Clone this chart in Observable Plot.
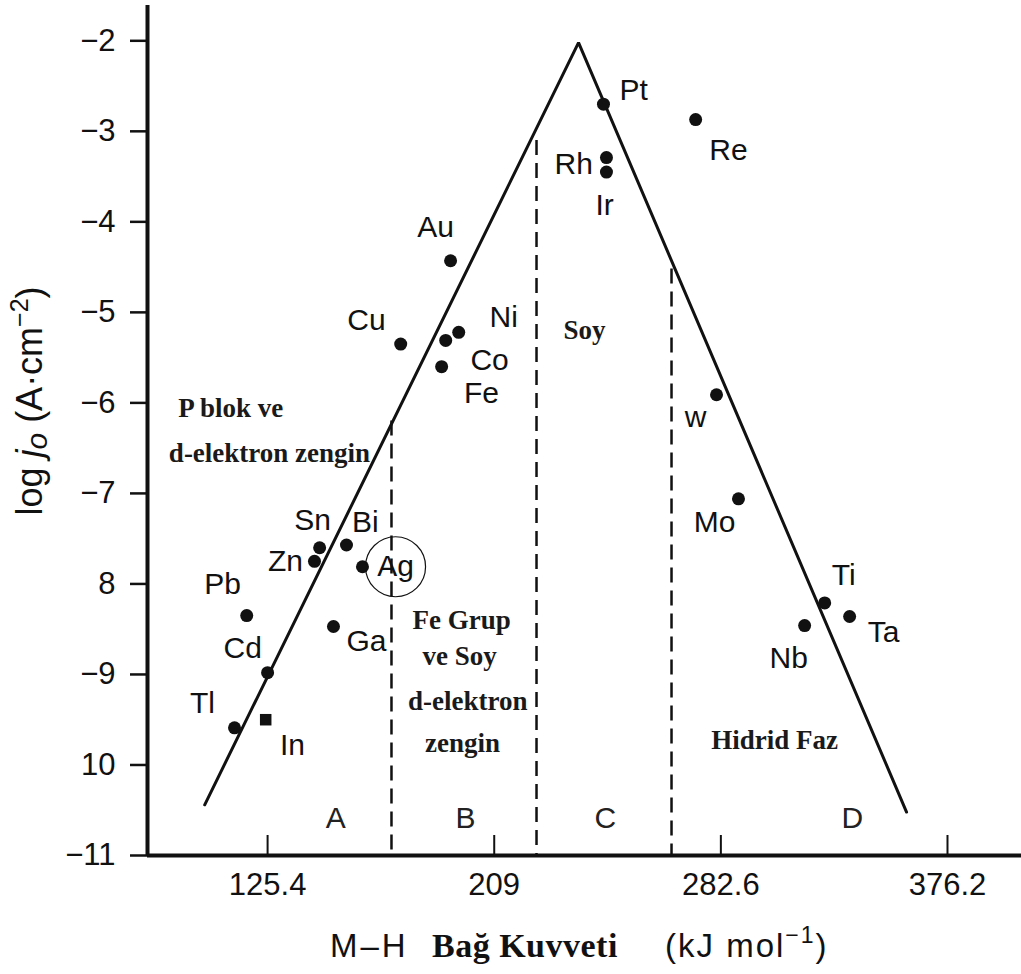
<!DOCTYPE html>
<html>
<head>
<meta charset="utf-8">
<script src="https://cdn.jsdelivr.net/npm/d3@7"></script>
<script src="https://cdn.jsdelivr.net/npm/@observablehq/plot@0.6"></script>
<style>
  html, body { margin: 0; padding: 0; background: #fff; }
  #chart svg { display: block; }
</style>
</head>
<body>
<div id="chart"></div>
<script>
// Volcano plot: exchange current density of hydrogen evolution vs. M–H bond strength

// Metals, their M–H bond strength (kJ/mol) and log j0 (A·cm^-2)
const elements     = ["Pt", "Re", "Rh", "Ir", "Au", "Cu", "Ni", "Co", "Fe", "W", "Mo", "Ti", "Ta", "Nb", "Sn", "Zn", "Bi", "Ag", "Ga", "Pb", "Cd", "Tl", "In"];
const bondStrength = [249.3, 283.3, 250.4, 250.4, 192.9, 174.5, 195.9, 191.1, 189.6, 291.0, 299.1, 330.9, 340.1, 323.5, 144.6, 142.7, 154.5, 160.4, 149.7, 117.7, 125.4, 113.2, 124.7];
const logJ0        = [-2.70, -2.87, -3.29, -3.45, -4.43, -5.35, -5.22, -5.31, -5.60, -5.91, -7.06, -8.21, -8.36, -8.46, -7.60, -7.75, -7.57, -7.81, -8.47, -8.35, -8.98, -9.59, -9.50];

// Element name labels and where they sit
const labelText = ["Pt", "Re", "Rh", "Ir", "Au", "Cu", "Ni", "Co", "Fe", "w", "Mo", "Ti", "Ta", "Nb", "Sn", "Zn", "Bi", "Ag", "Ga", "Pb", "Cd", "Tl", "In"];
const labelX    = [260.4, 295.4, 238.3, 249.7, 187.4, 161.9, 212.5, 207.3, 204.3, 283.3, 290.3, 337.9, 352.6, 317.6, 142.0, 132.0, 161.5, 172.6, 161.9, 108.8, 116.2, 101.4, 134.6];
const labelY    = [-2.55, -3.21, -3.36, -3.82, -4.06, -5.09, -5.05, -5.53, -5.89, -6.16, -7.32, -7.91, -8.54, -8.82, -7.30, -7.75, -7.32, -7.81, -8.64, -8.00, -8.71, -9.32, -9.78];
const circledLabel = "Ag";

// The two branches of the volcano (left foot, apex, right foot)
const volcanoX = [102.2, 240.1, 361.1];
const volcanoY = [-10.44, -2.02, -10.52];

// Region boundaries (dashed) and their upper ends on the volcano
const boundaryX   = [171.1, 224.6, 274.4];
const boundaryTop = [-6.20, -3.10, -4.52];

// Region letters
const regionText = ["A", "B", "C", "D"];
const regionX    = [150.5, 198.4, 250.0, 341.1];
const regionY    = [-10.59, -10.59, -10.59, -10.59];

// Region descriptions
const noteText = ["P blok ve", "d-elektron zengin", "Fe Grup", "ve Soy", "d-elektron", "zengin", "Soy", "Hidrid Faz"];
const noteX    = [111.8, 126.1, 197.0, 196.2, 199.2, 197.3, 242.3, 312.4];
const noteY    = [-6.06, -6.56, -8.40, -8.80, -9.30, -9.76, -5.20, -9.73];

// Axis ticks and their printed labels
const xTicks      = [125.4, 209, 292.6, 376.2];
const xTickLabels = ["125.4", "209", "282.6", "376.2"];
const yTicks      = [-2, -3, -4, -5, -6, -7, -8, -9, -10, -11];
const yTickLabels = ["\u22122", "\u22123", "\u22124", "\u22125", "\u22126", "\u22127", "8", "\u22129", "10", "\u221211"];

const xDomain = [81.1, 403.5];
const yDomain = [-11, -1.61];

// Tables built from the arrays
const points   = elements.map((name, i) => ({name, x: bondStrength[i], y: logJ0[i]}));
const labels   = labelText.map((text, i) => ({text, x: labelX[i], y: labelY[i]}));
const volcano  = volcanoX.map((x, i) => ({x, y: volcanoY[i]}));
const bounds   = boundaryX.map((x, i) => ({x, top: boundaryTop[i]}));
const regions  = regionText.map((text, i) => ({text, x: regionX[i], y: regionY[i]}));
const notes    = noteText.map((text, i) => ({text, x: noteX[i], y: noteY[i]}));
const xLabelOf = new Map(xTicks.map((t, i) => [t, xTickLabels[i]]));
const yLabelOf = new Map(yTicks.map((t, i) => [t, yTickLabels[i]]));

const ink = "#111";
const sans = "'Liberation Sans', Arial, sans-serif";
const serif = "'Liberation Serif', 'Times New Roman', serif";

const chart = Plot.plot({
  width: 1021,
  height: 974,
  marginLeft: 147,
  marginRight: 0,
  marginTop: 5,
  marginBottom: 119,
  x: {domain: xDomain, label: null},
  y: {domain: yDomain, label: null},
  style: {
    fontFamily: sans,
    fontSize: "30px",
    color: ink,
    background: "#fff",
    overflow: "visible"
  },
  marks: [
    // dashed region boundaries
    Plot.ruleX(bounds, {x: "x", y1: "top", y2: yDomain[0], stroke: ink, strokeWidth: 2.5, strokeDasharray: "15,8"}),
    // volcano branches
    Plot.line(volcano, {x: "x", y: "y", stroke: ink, strokeWidth: 3, strokeLinejoin: "miter"}),
    // axis lines
    Plot.ruleX([xDomain[0]], {stroke: ink, strokeWidth: 4}),
    Plot.ruleY([yDomain[0]], {stroke: ink, strokeWidth: 4}),
    // y axis: outward ticks with labels
    Plot.axisY({ticks: yTicks, tickSize: 17, tickPadding: 15, tickFormat: d => yLabelOf.get(d), fontSize: 31, strokeWidth: 2.5}),
    // x axis: labels below, ticks pointing inward
    Plot.axisX({ticks: xTicks, tickSize: 0, tickPadding: 17, tickFormat: d => xLabelOf.get(d), fontSize: 31}),
    Plot.axisX({ticks: xTicks, tickSize: -20, tickFormat: () => "", strokeWidth: 2}),
    // metals
    Plot.dot(points.filter(d => d.name !== "In"), {x: "x", y: "y", r: 6.5, fill: ink, stroke: "none"}),
    Plot.dot(points.filter(d => d.name === "In"), {x: "x", y: "y", r: 6.5, symbol: "square", fill: ink, stroke: "none"}),
    Plot.text(labels, {x: "x", y: "y", text: "text", fontSize: 30, fill: ink}),
    Plot.dot(labels.filter(d => d.text === circledLabel), {x: "x", y: "y", r: 30, stroke: ink, strokeWidth: 1.2, fill: "none"}),
    // region letters and descriptions
    Plot.text(regions, {x: "x", y: "y", text: "text", fontSize: 30, fill: "#222"}),
    Plot.text(notes, {x: "x", y: "y", text: "text", fontFamily: serif, fontWeight: "bold", fontSize: 27, fill: "#1a1a1a"})
  ]
});

document.getElementById("chart").appendChild(chart);

// Axis titles with mixed typefaces, sub- and superscripts
const svg = d3.select(chart);

const yTitle = svg.append("text")
  .attr("transform", "translate(42,401) rotate(-90)")
  .attr("text-anchor", "middle")
  .attr("fill", ink)
  .style("font-family", sans)
  .style("font-size", "36px");
yTitle.append("tspan").text("log ");
yTitle.append("tspan").style("font-style", "italic").text("j");
yTitle.append("tspan").style("font-style", "italic").style("font-size", "30px").attr("dy", 5).text("o");
yTitle.append("tspan").attr("dy", -5).text(" (A\u00b7cm");
yTitle.append("tspan").style("font-size", "25px").attr("dy", -14).text("\u22122");
yTitle.append("tspan").attr("dy", 14).text(")");

const xTitle = svg.append("g")
  .attr("fill", ink)
  .attr("text-anchor", "start")
  .attr("transform", "translate(0,957)");
xTitle.append("text")
  .attr("x", 330)
  .attr("text-anchor", "start")
  .style("font-family", sans)
  .style("font-size", "33px")
  .style("letter-spacing", "3px")
  .text("M\u2013H");
xTitle.append("text")
  .attr("x", 432)
  .attr("text-anchor", "start")
  .style("font-family", serif)
  .style("font-weight", "bold")
  .style("font-size", "34px")
  .style("letter-spacing", "0.5px")
  .text("Ba\u011f Kuvveti");
const unit = xTitle.append("text")
  .attr("x", 665)
  .attr("text-anchor", "start")
  .style("font-family", sans)
  .style("font-size", "33px")
  .style("letter-spacing", "2px");
unit.append("tspan").text("(kJ mol");
unit.append("tspan").style("font-size", "23px").attr("dy", -14).text("\u22121");
unit.append("tspan").attr("dy", 14).text(")");
</script>
</body>
</html>
